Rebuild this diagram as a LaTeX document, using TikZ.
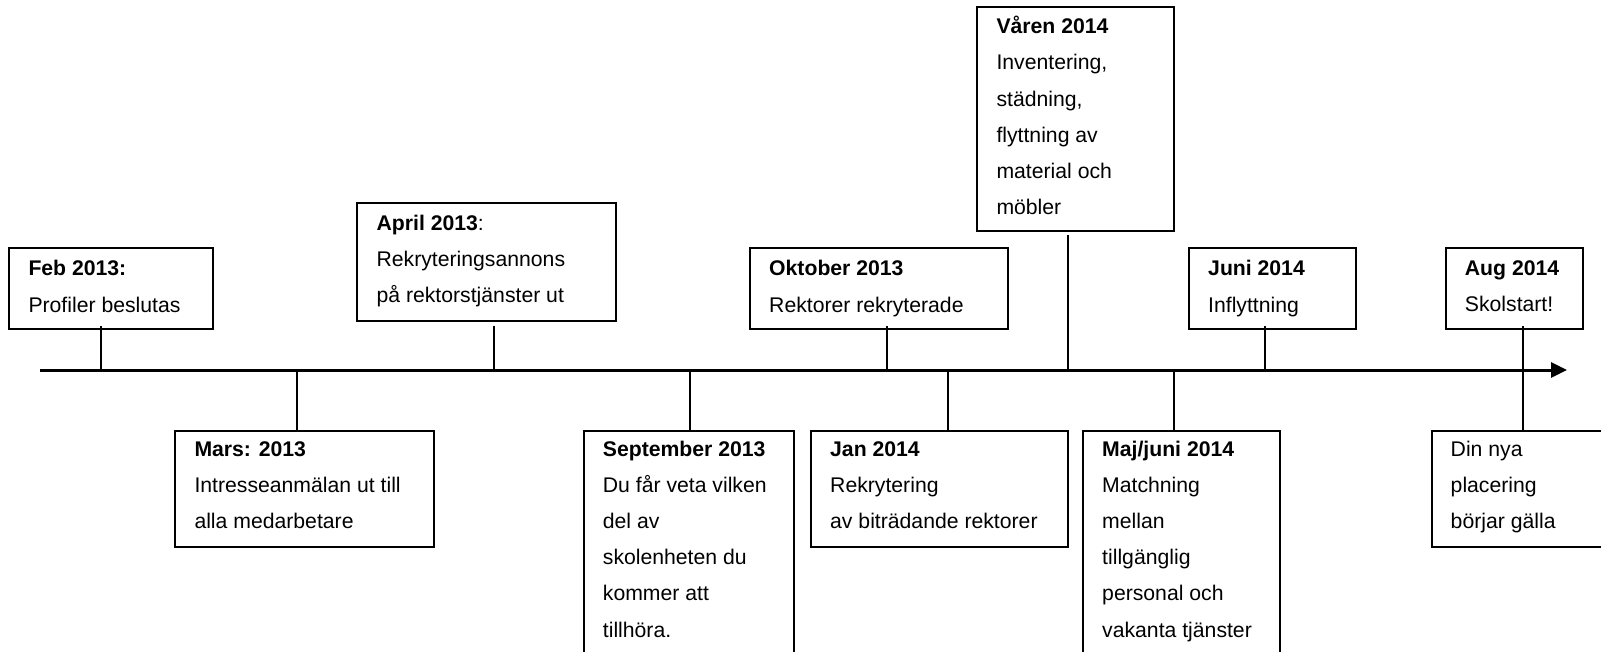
\documentclass[tikz,border=0pt]{standalone}
\usepackage{fontspec}
\setmainfont{Liberation Sans}
\usetikzlibrary{arrows.meta,fit}
\begin{document}
\begin{tikzpicture}[x=1pt,y=-1pt,
  box/.style={draw=black, line width=2pt, inner sep=0pt},
  txt/.style={anchor=north west, inner sep=0pt, align=left, text=black,
    font=\fontsize{21.2pt}{36.1pt}\selectfont},
  conn/.style={draw=black, line width=2pt},
  axisline/.style={draw=black, line width=3pt, -{Triangle[length=16pt,width=15pt]}}]
\useasboundingbox (0,0) rectangle (1601,652);
\fill[white] (0,0) rectangle (1601,652);

% axis
\coordinate (ax0) at (40,370);
\coordinate (ax1) at (1567,370);

% connector x positions on the axis
\coordinate (cfeb) at (100.5,370);
\coordinate (cmar) at (296.8,370);
\coordinate (capr) at (493.7,370);
\coordinate (csep) at (690.3,370);
\coordinate (cokt) at (886.7,370);
\coordinate (cjan) at (947.7,370);
\coordinate (cvar) at (1068.3,370);
\coordinate (cmaj) at (1174,370);
\coordinate (cjun) at (1265,370);
\coordinate (caug) at (1522.5,370);

% boxes above
\node[box, fit={(9.3,248.3) (213.3,329.3)}] (feb) {};
\node[box, fit={(357.4,203.3) (615.7,321)}] (apr) {};
\node[box, fit={(750,248.3) (1007.7,329.3)}] (okt) {};
\node[box, fit={(977.3,6.7) (1174.3,231)}] (var) {};
\node[box, fit={(1189,248.3) (1356,329.3)}] (jun) {};
\node[box, fit={(1445.7,248.3) (1582.7,329.3)}] (aug) {};
% boxes below
\node[box, fit={(175.3,430.5) (433.6,546.7)}] (mar) {};
\node[box, fit={(583.7,430.5) (794,680)}] (sep) {};
\node[box, fit={(811,430.5) (1068,546.7)}] (jan) {};
\node[box, fit={(1083,430.5) (1280,680)}] (maj) {};
\node[box, fit={(1431.5,430.5) (1630,546.5)}] (din) {};

% texts
\node[txt] (febt) at ([xshift=20pt]feb.north west) {\rule{0pt}{28.5pt}\textbf{Feb 2013:}\\Profiler beslutas};
\node[txt] (aprt) at ([xshift=20pt]apr.north west) {\rule{0pt}{28pt}\textbf{April 2013}:\\Rekryteringsannons\\på rektorstjänster ut};
\node[txt] (oktt) at ([xshift=20pt]okt.north west) {\rule{0pt}{28.5pt}\textbf{Oktober 2013}\\Rektorer rekryterade};
\node[txt] (vart) at ([xshift=20pt]var.north west) {\rule{0pt}{28pt}\textbf{Våren 2014}\\Inventering,\\städning,\\flyttning av\\material och\\möbler};
\node[txt] (junt) at ([xshift=20pt]jun.north west) {\rule{0pt}{28.5pt}\textbf{Juni 2014}\\Inflyttning};
\node[txt] (augt) at ([xshift=20pt]aug.north west) {\rule{0pt}{28pt}\textbf{Aug 2014}\\Skolstart!};
\node[txt] (mart) at ([xshift=20pt]mar.north west) {\rule{0pt}{26.8pt}\textbf{Mars: 2013}\\Intresseanmälan ut till\\alla medarbetare};
\node[txt] (sept) at ([xshift=20pt]sep.north west) {\rule{0pt}{26.8pt}\textbf{September 2013}\\Du får veta vilken\\del av\\skolenheten du\\kommer att\\tillhöra.};
\node[txt] (jant) at ([xshift=20pt]jan.north west) {\rule{0pt}{26.5pt}\textbf{Jan 2014}\\Rekrytering\\av biträdande rektorer};
\node[txt] (majt) at ([xshift=20pt]maj.north west) {\rule{0pt}{26.8pt}\textbf{Maj/juni 2014}\\Matchning\\mellan\\tillgänglig\\personal och\\vakanta tjänster};
\node[txt] (dint) at ([xshift=20pt]din.north west) {\rule{0pt}{26.8pt}Din nya\\placering\\börjar gälla};

% connectors
\draw[conn] (cfeb |- feb.south) ++(0,-4) -- (cfeb);
\draw[conn] (capr |- apr.south) ++(0,3.7) -- (capr);
\draw[conn] (cokt |- okt.south) ++(0,-4) -- (cokt);
\draw[conn] (cvar |- var.south) ++(0,3.3) -- (cvar);
\draw[conn] (cjun |- jun.south) ++(0,-4) -- (cjun);
\draw[conn] (caug |- aug.south) ++(0,-4) -- (caug |- din.north);
\draw[conn] (cmar) -- (cmar |- mar.north);
\draw[conn] (csep) -- (csep |- sep.north);
\draw[conn] (cjan) -- (cjan |- jan.north);
\draw[conn] (cmaj) -- (cmaj |- maj.north);

% timeline
\draw[axisline] (ax0) -- (ax1);
\end{tikzpicture}
\end{document}
